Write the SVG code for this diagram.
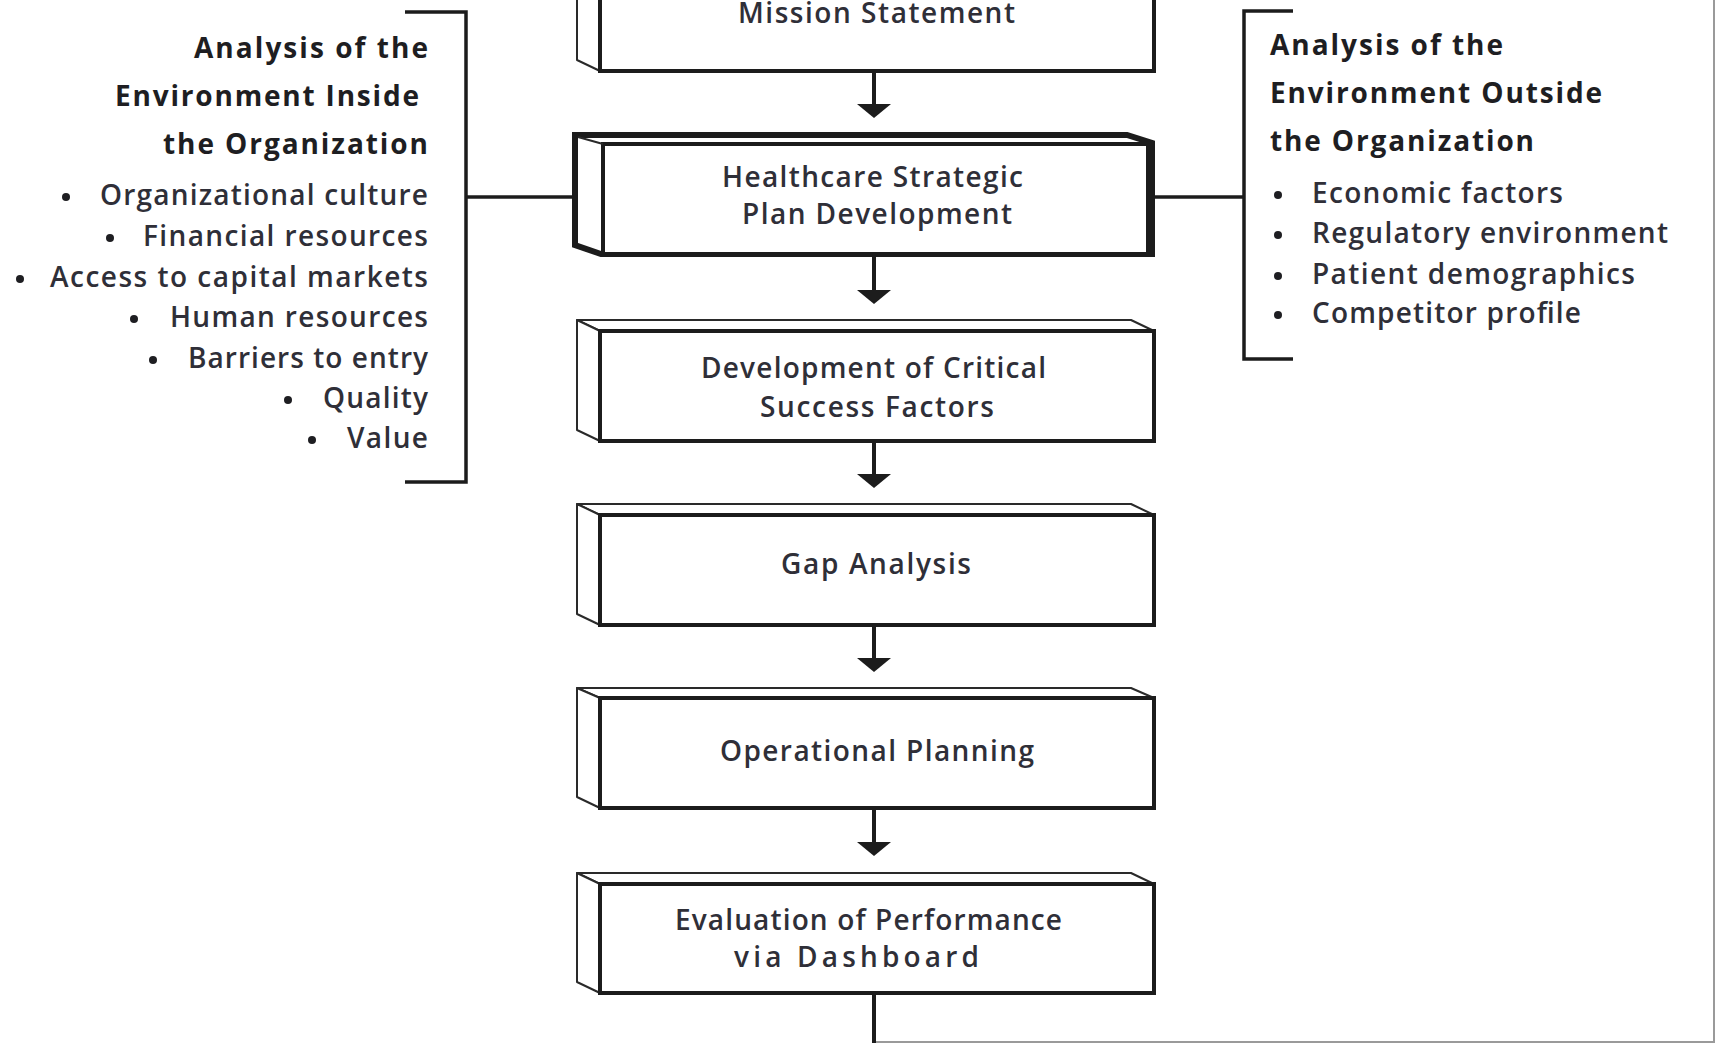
<svg xmlns="http://www.w3.org/2000/svg" width="1715" height="1043" viewBox="0 0 1715 1043">
  <style>
    .front { fill: #ffffff; stroke: #1c1c1c; stroke-width: 4; }
    .face { fill: #ffffff; stroke: #2a2a2a; stroke-width: 2; stroke-linejoin: round; }
    .thick { fill: #ffffff; stroke: #1c1c1c; stroke-width: 6; stroke-linejoin: miter; }
    .lbl { font-family: "Open Sans", "Liberation Sans", sans-serif; font-size: 28px; font-weight: 600; fill: #2f2f38; }
    .head { font-family: "Open Sans", "Liberation Sans", sans-serif; font-size: 28px; font-weight: bold; fill: #1e1e22; }
    .item { font-family: "Open Sans", "Liberation Sans", sans-serif; font-size: 28px; font-weight: 600; fill: #2f2f38; }
    .bul { fill: #1e1e22; }
    .link { fill: none; stroke: #1c1c1c; stroke-width: 4; }
    .brk { fill: none; stroke: #1c1c1c; stroke-width: 3.5; }
    .edge { fill: none; stroke: #9a9a9a; stroke-width: 2; }
  </style>
  <defs>
    <marker id="ah" viewBox="0 0 14 34" refX="0" refY="17" markerWidth="14" markerHeight="34" markerUnits="userSpaceOnUse" orient="auto">
      <path d="M0,0 L14,17 L0,34 Z" fill="#1c1c1c"/>
    </marker>
  </defs>
  <rect x="0" y="0" width="1715" height="1043" fill="#ffffff"/>

  <g id="page-edge">
    <line class="edge" x1="1714" y1="0" x2="1714" y2="1043"/>
    <line class="edge" x1="876" y1="1042" x2="1715" y2="1042"/>
  </g>

  <g id="connectors">
    <line class="link" x1="874" y1="71" x2="874" y2="104" marker-end="url(#ah)"/>
    <line class="link" x1="874" y1="256" x2="874" y2="290" marker-end="url(#ah)"/>
    <line class="link" x1="874" y1="441" x2="874" y2="474" marker-end="url(#ah)"/>
    <line class="link" x1="874" y1="625" x2="874" y2="658" marker-end="url(#ah)"/>
    <line class="link" x1="874" y1="808" x2="874" y2="842" marker-end="url(#ah)"/>
    <line class="link" x1="874" y1="993" x2="874" y2="1043"/>
    <line class="brk" x1="466" y1="197" x2="574" y2="197"/>
    <line class="brk" x1="1154" y1="197" x2="1244" y2="197"/>
  </g>

  <g id="mission">
    <polygon class="face" points="577,-50 600,-39 600,71 577,60"/>
    <rect class="front" x="600" y="-39" width="554" height="110"/>
    <text class="lbl" x="738" y="23" textLength="277">Mission Statement</text>
  </g>

  <g id="healthcare-plan">
    <polygon class="thick" points="575,135 1127,135 1152,143 1152,254 601,254 575,245"/>
    <rect class="front" x="603" y="144" width="545" height="110"/>
    <line class="face" x1="578" y1="137" x2="603" y2="144"/>
    <text class="lbl" x="722" y="187" textLength="301">Healthcare Strategic</text>
    <text class="lbl" x="742" y="224" textLength="270">Plan Development</text>
  </g>

  <g id="critical-success-factors">
    <polygon class="face" points="577,320 1131,320 1154,331 600,331"/>
    <polygon class="face" points="577,320 600,331 600,441 577,430"/>
    <rect class="front" x="600" y="331" width="554" height="110"/>
    <text class="lbl" x="701" y="378" textLength="345">Development of Critical</text>
    <text class="lbl" x="760" y="417" textLength="234">Success Factors</text>
  </g>

  <g id="gap-analysis">
    <polygon class="face" points="577,504 1131,504 1154,515 600,515"/>
    <polygon class="face" points="577,504 600,515 600,625 577,614"/>
    <rect class="front" x="600" y="515" width="554" height="110"/>
    <text class="lbl" x="781" y="574" textLength="190">Gap Analysis</text>
  </g>

  <g id="operational-planning">
    <polygon class="face" points="577,688 1131,688 1154,698 600,698"/>
    <polygon class="face" points="577,688 600,698 600,808 577,797"/>
    <rect class="front" x="600" y="698" width="554" height="110"/>
    <text class="lbl" x="720" y="761" textLength="314">Operational Planning</text>
  </g>

  <g id="evaluation">
    <polygon class="face" points="577,873 1131,873 1154,884 600,884"/>
    <polygon class="face" points="577,873 600,884 600,993 577,982"/>
    <rect class="front" x="600" y="884" width="554" height="109"/>
    <text class="lbl" x="675" y="930" textLength="387">Evaluation of Performance</text>
    <text class="lbl" x="734" y="967" textLength="245">via Dashboard</text>
  </g>

  <g id="inside-analysis">
    <path class="brk" d="M405,12 H466 V482 H405"/>
    <text class="head" x="194" y="58" textLength="234">Analysis of the</text>
    <text class="head" x="115" y="106" textLength="304">Environment Inside</text>
    <text class="head" x="163" y="154" textLength="265">the Organization</text>
    <circle class="bul" cx="66" cy="197" r="4"/>
    <text class="item" x="100" y="205" textLength="328">Organizational culture</text>
    <circle class="bul" cx="110" cy="238" r="4"/>
    <text class="item" x="143" y="246" textLength="285">Financial resources</text>
    <circle class="bul" cx="20" cy="279" r="4"/>
    <text class="item" x="50" y="287" textLength="378">Access to capital markets</text>
    <circle class="bul" cx="134" cy="319" r="4"/>
    <text class="item" x="170" y="327" textLength="258">Human resources</text>
    <circle class="bul" cx="153" cy="360" r="4"/>
    <text class="item" x="188" y="368" textLength="240">Barriers to entry</text>
    <circle class="bul" cx="288" cy="400" r="4"/>
    <text class="item" x="323" y="408" textLength="105">Quality</text>
    <circle class="bul" cx="312" cy="440" r="4"/>
    <text class="item" x="347" y="448" textLength="81">Value</text>
  </g>

  <g id="outside-analysis">
    <path class="brk" d="M1293,11 H1244 V359 H1293"/>
    <text class="head" x="1270" y="55" textLength="233">Analysis of the</text>
    <text class="head" x="1270" y="103" textLength="332">Environment Outside</text>
    <text class="head" x="1270" y="151" textLength="264">the Organization</text>
    <circle class="bul" cx="1278" cy="195" r="4"/>
    <text class="item" x="1312" y="203" textLength="251">Economic factors</text>
    <circle class="bul" cx="1278" cy="235" r="4"/>
    <text class="item" x="1312" y="243" textLength="356">Regulatory environment</text>
    <circle class="bul" cx="1278" cy="276" r="4"/>
    <text class="item" x="1312" y="284" textLength="323">Patient demographics</text>
    <circle class="bul" cx="1278" cy="315" r="4"/>
    <text class="item" x="1312" y="323" textLength="269">Competitor profile</text>
  </g>
</svg>
